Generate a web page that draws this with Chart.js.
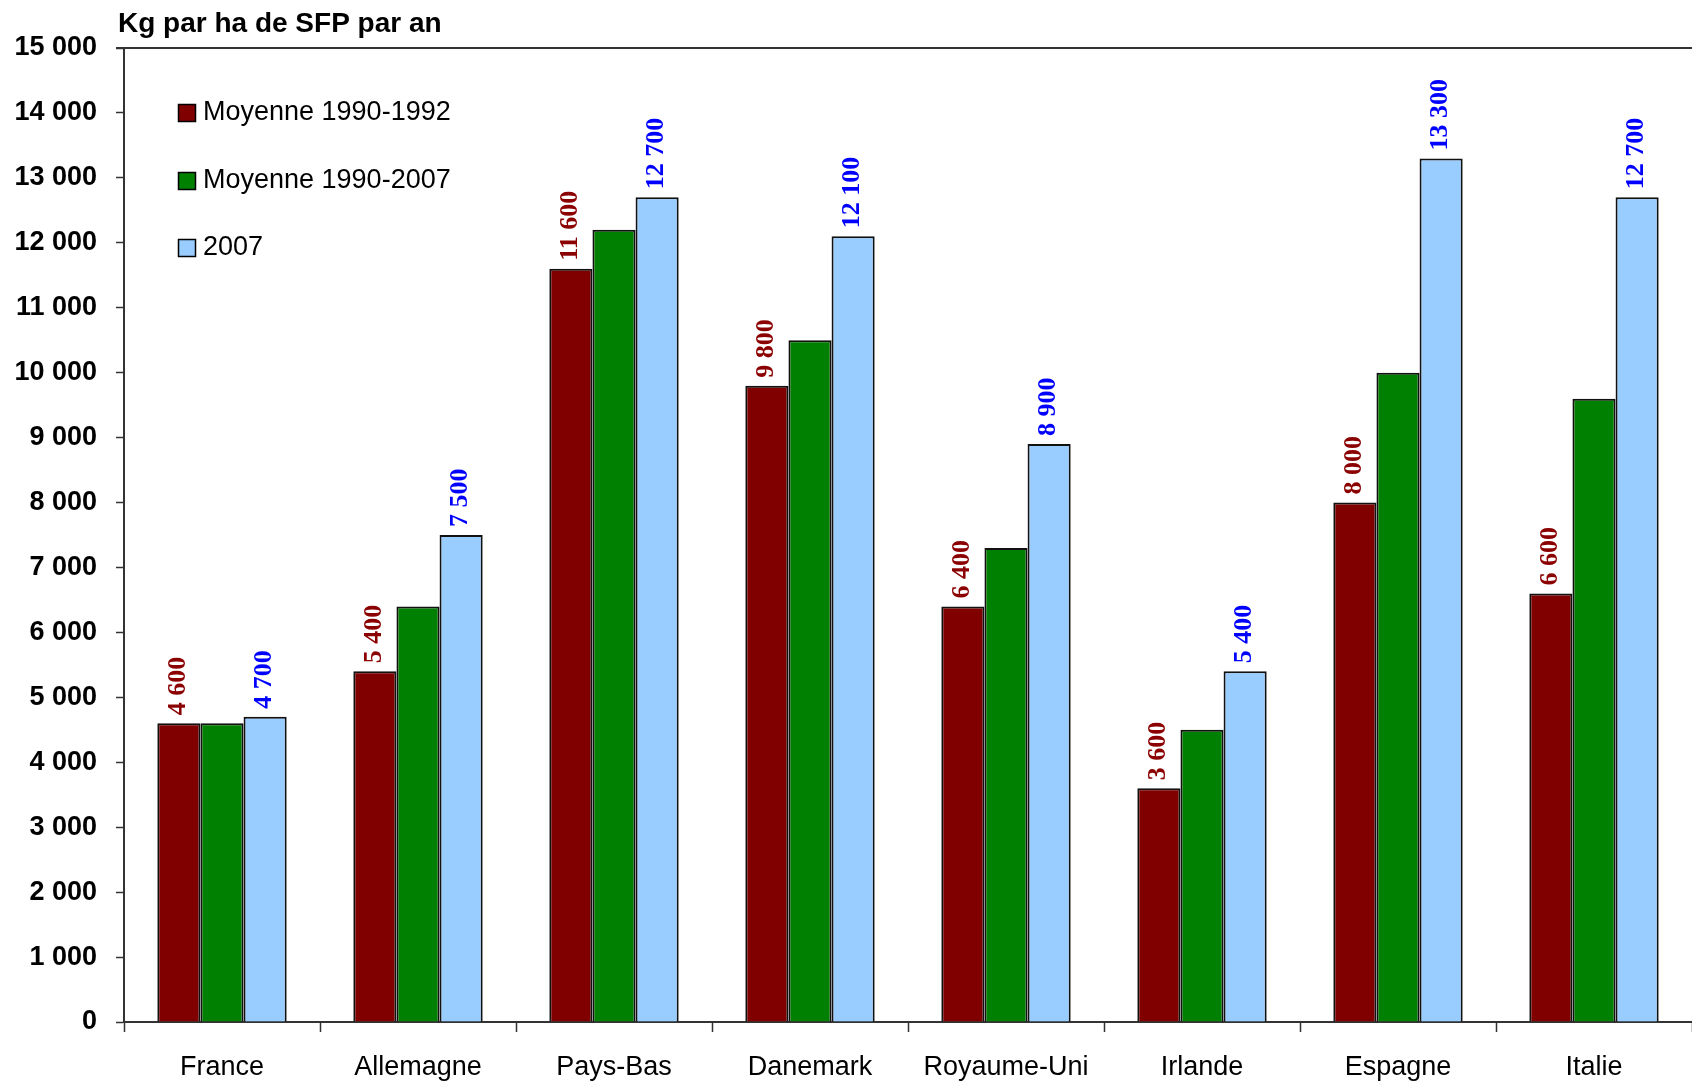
<!DOCTYPE html>
<html>
<head>
<meta charset="utf-8">
<script src="https://cdn.jsdelivr.net/npm/chart.js@4/dist/chart.umd.min.js"></script>
<style>
  html, body { margin: 0; padding: 0; background: #fff; }
  canvas { display: block; }
</style>
</head>
<body>
<canvas id="chart" width="1692" height="1082"></canvas>
<script>
const countries = ["France", "Allemagne", "Pays-Bas", "Danemark", "Royaume-Uni", "Irlande", "Espagne", "Italie"];
const avg1990_1992 = [4600, 5400, 11600, 9800, 6400, 3600, 8000, 6600];
const avg1990_2007 = [4600, 6400, 12200, 10500, 7300, 4500, 10000, 9600];
const year2007 = [4700, 7500, 12700, 12100, 8900, 5400, 13300, 12700];
const seriesNames = ["Moyenne 1990-1992", "Moyenne 1990-2007", "2007"];
const unitTitle = "Kg par ha de SFP par an";

const colors = ["#800000", "#008000", "#99ccff"];
const labelColors = ["#8b0000", null, "#0000ff"];

function fmt(v) {
  return String(v).replace(/\B(?=(\d{3})+(?!\d))/g, " ");
}

// rotated value labels, title, top frame line and legend
const extras = {
  id: "extras",
  afterDatasetsDraw(chart) {
    const ctx = chart.ctx;
    const area = chart.chartArea;
    ctx.save();
    chart.data.datasets.forEach((ds, i) => {
      if (!labelColors[i]) return;
      const meta = chart.getDatasetMeta(i);
      ctx.fillStyle = labelColors[i];
      ctx.font = "bold 26px 'Liberation Serif', 'Times New Roman', serif";
      ctx.textAlign = "left";
      ctx.textBaseline = "middle";
      meta.data.forEach((bar, j) => {
        ctx.save();
        ctx.translate(bar.x - 1, bar.y - 8);
        ctx.rotate(-Math.PI / 2);
        ctx.fillText(fmt(ds.data[j]), 0, 0);
        ctx.restore();
      });
    });

    // top border
    ctx.strokeStyle = "#333";
    ctx.lineWidth = 2;
    ctx.beginPath();
    ctx.moveTo(area.left - 8, area.top);
    ctx.lineTo(area.right, area.top);
    ctx.stroke();

    // title
    ctx.fillStyle = "#000";
    ctx.font = "bold 28px 'Liberation Sans', Arial, sans-serif";
    ctx.textAlign = "left";
    ctx.textBaseline = "alphabetic";
    ctx.fillText(unitTitle, 118, 32);

    // legend
    const ys = [113, 181, 248];
    seriesNames.forEach((name, i) => {
      ctx.fillStyle = colors[i];
      ctx.fillRect(178, ys[i] - 9, 17, 17);
      ctx.strokeStyle = "#000";
      ctx.lineWidth = 1.5;
      ctx.strokeRect(178.5, ys[i] - 8.5, 17, 17);
      ctx.fillStyle = "#000";
      ctx.font = "27px 'Liberation Sans', Arial, sans-serif";
      ctx.textBaseline = "middle";
      ctx.fillText(name, 203, ys[i]);
    });
    ctx.restore();
  }
};

new Chart(document.getElementById("chart"), {
  type: "bar",
  data: {
    labels: countries,
    datasets: [avg1990_1992, avg1990_2007, year2007].map((d, i) => ({
      label: seriesNames[i],
      data: d,
      backgroundColor: colors[i],
      borderColor: "#111",
      borderWidth: 2,
      borderSkipped: "bottom",
      categoryPercentage: 0.66,
      barPercentage: 1.0
    }))
  },
  options: {
    responsive: false,
    devicePixelRatio: 1,
    animation: false,
    layout: { padding: { top: 48, right: 0, bottom: 0, left: 0 } },
    plugins: {
      legend: { display: false },
      tooltip: { enabled: false }
    },
    scales: {
      x: {
        offset: true,
        grid: {
          offset: true,
          drawOnChartArea: false,
          drawTicks: true,
          tickLength: 10,
          color: "#333",
          tickWidth: 1.5
        },
        border: { display: true, color: "#333", width: 2 },
        ticks: {
          color: "#000",
          padding: 19,
          font: { family: "'Liberation Sans', Arial, sans-serif", size: 27 }
        },
        afterFit(scale) { scale.height = 60; }
      },
      y: {
        min: 0,
        max: 15000,
        grid: {
          drawOnChartArea: false,
          drawTicks: true,
          tickLength: 8,
          color: "#333",
          tickWidth: 1.5
        },
        border: { display: true, color: "#333", width: 2 },
        ticks: {
          stepSize: 1000,
          color: "#000",
          padding: 19,
          font: { family: "'Liberation Sans', Arial, sans-serif", size: 27, weight: "bold" },
          callback: v => fmt(v)
        },
        afterFit(scale) { scale.width = 124; }
      }
    }
  },
  plugins: [extras]
});
</script>
</body>
</html>
